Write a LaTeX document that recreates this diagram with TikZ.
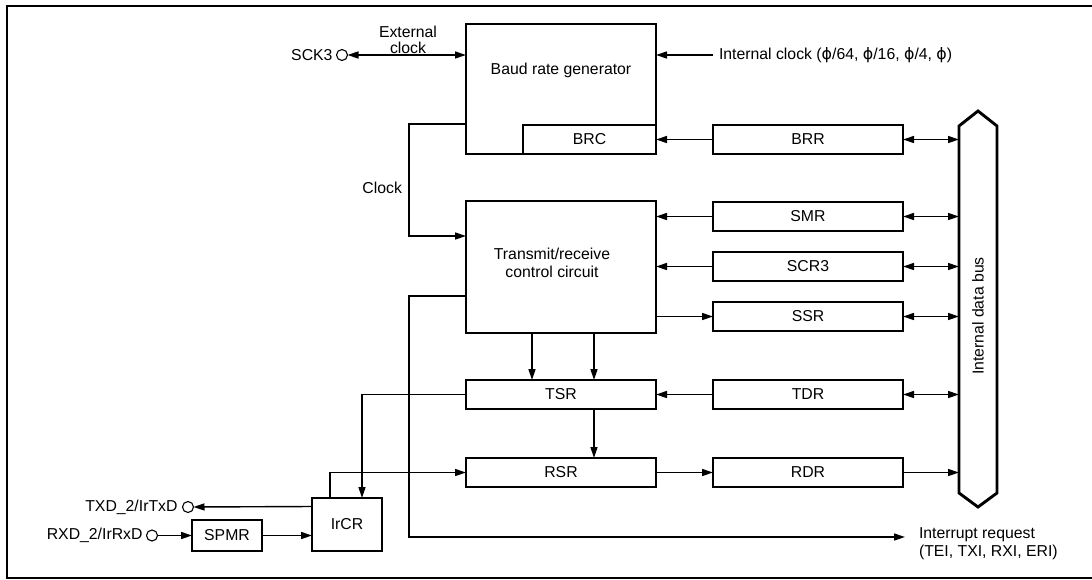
\documentclass[tikz,border=0pt]{standalone}
\usepackage{fontspec}
\setmainfont{Liberation Sans}
\newfontfamily\phifont{DejaVu Sans}
\newcommand{\phisym}{{\phifont ϕ}}
\usetikzlibrary{arrows.meta, positioning, calc}

\begin{document}
\begin{tikzpicture}[
    x=1pt, y=-1pt,
    >={Triangle[length=11pt, width=7pt]},
    every node/.style={outer sep=0pt, inner sep=2pt, font=\fontsize{15.8}{17.5}\selectfont},
    node distance=21pt and 57pt,
    regBox/.style={draw, line width=2.9pt, minimum width=190pt, minimum height=29pt},
    bigBox/.style={draw, line width=2.9pt, minimum width=190pt},
    smallBox/.style={draw, line width=2.9pt, minimum width=70pt},
    pinCircle/.style={circle, draw, line width=1.1pt, minimum size=11pt, inner sep=0pt},
    lbl/.style={inner sep=1pt},
    conn/.style={line width=1.4pt},
    % Bus outline
    busLine/.style={line width=2.9pt, line join=miter}
]
    \useasboundingbox (0,0) rectangle (1092,579);
    \draw [line width=2.8pt] (7,6) rectangle (1095,578);

    % Baud rate generator and its registers
    \node (brg) [bigBox, minimum height=130pt] at (561,89) {};
    \node (brgText) at (561,70) {Baud rate generator};
    \node (brc) [regBox, minimum width=133pt] at (589.5,139.5) {BRC};
    \node (brr) [regBox] at (808,139.5) {BRR};

    % Control circuit and status/control registers
    \node (trc) [bigBox, minimum height=132pt] at (561,267) {};
    \node (trcText) [align=center] at (552,263) {Transmit/receive\\control circuit};
    \node (smr) [regBox] at (808,216.5) {SMR};
    \node (scr) [regBox, below=of smr] {SCR3};
    \node (ssr) [regBox, below=of scr] {SSR};

    % Shift and data registers
    \node (tsr) [regBox] at (561,394.5) {TSR};
    \node (rsr) [regBox, below=49pt of tsr] {RSR};
    \node (tdr) [regBox] at (808,394.5) {TDR};
    \node (rdr) [regBox, below=49pt of tdr] {RDR};

    % IrDA side
    \node (ircr) [smallBox, minimum height=53pt] at (347,524.5) {IrCR};
    \node (spmr) [smallBox, minimum height=31pt] at (227,535.5) {SPMR};

    % Pins and their names
    \node (sck) [pinCircle] at (342,55) {};
    \node (sckText) [lbl, left=3pt of sck] {SCK3};
    \node (txd) [pinCircle] at (188,507) {};
    \node (txdText) [lbl, left=4pt of txd] {TXD\_2/IrTxD};
    \node (rxd) [pinCircle] at (152,535.5) {};
    \node (rxdText) [lbl, left=3pt of rxd] {RXD\_2/IrRxD};

    % Internal data bus
    \draw [busLine] (959,126) -- (978,111) -- (997,126) -- (997,493) -- (978,507) -- (959,493) -- cycle;
    \coordinate (busL) at (959,300);
    \node (busText) [rotate=90] at (978,316) {Internal data bus};

    % Other labels
    \node (extText) [lbl, align=center, font=\fontsize{15.8}{16}\selectfont] at (408,40) {External\\clock};
    \node (intClk) [lbl, anchor=west] at (718,55) {Internal clock (\phisym/64, \phisym/16, \phisym/4, \phisym)};
    \node (clkText) [lbl, anchor=east] at (403,188) {Clock};
    \coordinate (intrEnd) at (905,537);
    \node (intr) [lbl, anchor=north west, align=left, inner sep=0pt] at ($(intrEnd)+(14,-9)$) {Interrupt request\\(TEI, TXI, RXI, ERI)};

    % Clock paths
    \draw [conn, <->] (sck) -- (brg.west |- sck);
    \draw [conn, ->] ([xshift=-5pt]intClk.west) -- (brg.east |- intClk.west);
    \draw [conn, ->] (brr.west) -- (brc.east);
    \draw [conn, ->] ([yshift=30pt]brg.south west) -- ++(-57,0) |- ([yshift=-35pt]trc.north west);

    % Registers to bus
    \draw [conn, <->] (brr.east) -- (brr.east -| busL);
    \draw [conn, <->] (smr.east) -- (smr.east -| busL);
    \draw [conn, <->] (scr.east) -- (scr.east -| busL);
    \draw [conn, <->] (ssr.east) -- (ssr.east -| busL);
    \draw [conn, <->] (tdr.east) -- (tdr.east -| busL);
    \draw [conn, ->] (rdr.east) -- (rdr.east -| busL);

    % Registers and control circuit
    \draw [conn, ->] (smr.west) -- (smr.west -| trc.east);
    \draw [conn, ->] (scr.west) -- (scr.west -| trc.east);
    \draw [conn, ->] (ssr.west -| trc.east) -- (ssr.west);
    \draw [conn, ->] ([xshift=-29pt]trc.south) -- ([xshift=-29pt]tsr.north);
    \draw [conn, ->] ([xshift=33pt]trc.south) -- ([xshift=33pt]tsr.north);
    \draw [conn, ->] (tdr.west) -- (tsr.east);
    \draw [conn, ->] ([xshift=33pt]tsr.south) -- ([xshift=33pt]rsr.north);
    \draw [conn, ->] (rsr.east) -- (rdr.west);
    \draw [conn, ->] ([yshift=37pt]trc.south west) -- ++(-57,0) |- (intrEnd);

    % Serial data paths
    \draw [conn, ->] (tsr.west) -| ([xshift=15pt]ircr.north);
    \draw [conn, ->] ([xshift=-17pt]ircr.north) |- (rsr.west);
    \draw [conn, ->] ([yshift=18pt]ircr.west) -- (txd);
    \draw [conn, ->] (rxd) -- (spmr.west);
    \draw [conn, ->] (spmr.east) -- (spmr.east -| ircr.west);
\end{tikzpicture}
\end{document}
